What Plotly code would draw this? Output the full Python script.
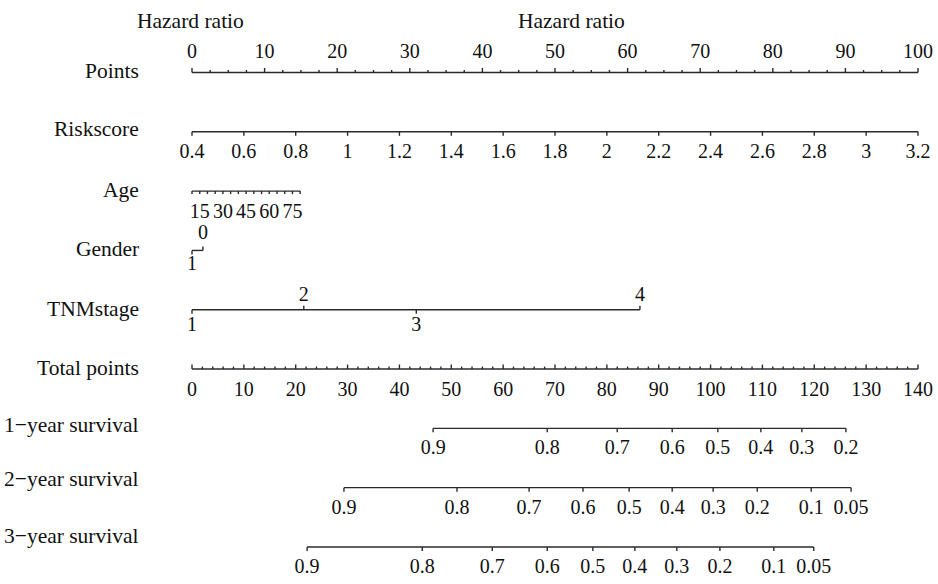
import numpy as np
import plotly.graph_objects as go

# ---------------- data ----------------
row_names = ["Points", "Riskscore", "Age", "Gender", "TNMstage", "Total points",
             "1\u2212year survival", "2\u2212year survival", "3\u2212year survival"]

points_major = list(range(0, 101, 10))
points_minor = list(np.arange(0, 100.01, 2.5))

riskscore_ticks = [0.4, 0.6, 0.8, 1.0, 1.2, 1.4, 1.6, 1.8, 2.0, 2.2, 2.4, 2.6, 2.8, 3.0, 3.2]
riskscore_labels = ["0.4", "0.6", "0.8", "1", "1.2", "1.4", "1.6", "1.8", "2", "2.2",
                    "2.4", "2.6", "2.8", "3", "3.2"]
riskscore_range = [0.4, 3.2]
riskscore_points = [0, 100]

age_ticks = list(range(10, 81, 5))
age_labels = [15, 30, 45, 60, 75]
age_range = [10, 80]
age_points = [0, 14.9]

gender_levels = ["1", "0"]
gender_points = [0, 1.5]

tnm_levels = ["1", "2", "3", "4"]
tnm_points = [0, 15.4, 30.9, 61.7]

total_major = list(range(0, 141, 10))
total_minor = list(range(0, 141, 2))
total_max = 140
points_max = 100

surv1_labels = ["0.9", "0.8", "0.7", "0.6", "0.5", "0.4", "0.3", "0.2"]
surv1_total = [46.5, 68.5, 82.0, 92.6, 101.4, 109.7, 117.6, 126.1]
surv2_labels = ["0.9", "0.8", "0.7", "0.6", "0.5", "0.4", "0.3", "0.2", "0.1", "0.05"]
surv2_total = [29.3, 51.1, 65.0, 75.4, 84.3, 92.6, 100.5, 109.0, 119.4, 127.1]
surv3_labels = ["0.9", "0.8", "0.7", "0.6", "0.5", "0.4", "0.3", "0.2", "0.1", "0.05"]
surv3_total = [22.2, 44.4, 57.9, 68.5, 77.3, 85.4, 93.5, 101.8, 112.2, 119.9]

# ---------------- layout helpers ----------------
W, H = 938, 584
PX_PER_PT = 7.26
X0_PX = 192
PPR = 59.31          # pixels per row
ROW0_PX = 72.5
LINE_COLOR = "#2b2b2b"
TEXT_COLOR = "#111111"
FONT = "Liberation Serif, Times New Roman, serif"
TICK_SIZE = 20
LABEL_SIZE = 21.5

def tp_to_x(tp):
    return [t * points_max / total_max for t in tp]

fig = go.Figure()

def add_axis(row, xs, ticks, labels):
    """ticks: list of (x, direction(-1 up / +1 down), length_px)
       labels: list of (x, text, side(-1 above/+1 below), offset_px)"""
    lx = [min(xs), max(xs), None]
    ly = [row, row, None]
    for x, d, L in ticks:
        lx += [x, x, None]
        ly += [row, row + d * L / PPR, None]
    fig.add_trace(go.Scatter(x=lx, y=ly, mode="lines",
                             line=dict(color=LINE_COLOR, width=1.4),
                             hoverinfo="skip", showlegend=False))
    fig.add_trace(go.Scatter(x=[l[0] for l in labels],
                             y=[row + l[2] * l[3] / PPR for l in labels],
                             text=[l[1] for l in labels], mode="text",
                             textposition="middle center",
                             textfont=dict(family=FONT, size=TICK_SIZE, color=TEXT_COLOR),
                             hoverinfo="skip", showlegend=False))

# Points
add_axis(0, [0, 100],
         [(p, -1, 4.5 if abs(p % 10) < 1e-9 else 2.5) for p in points_minor],
         [(p, str(p), -1, 20) for p in points_major])

# Riskscore
rs_x = list(np.interp(riskscore_ticks, riskscore_range, riskscore_points))
add_axis(1, rs_x, [(x, 1, 4) for x in rs_x],
         [(x, t, 1, 21) for x, t in zip(rs_x, riskscore_labels)])

# Age
age_x = list(np.interp(age_ticks, age_range, age_points))
age_lx = list(np.interp(age_labels, age_range, age_points))
add_axis(2, age_x, [(x, 1, 3) for x in age_x],
         [(x, str(a), 1, 22) for x, a in zip(age_lx, age_labels)])

# Gender
add_axis(3, gender_points,
         [(gender_points[0], 1, 4), (gender_points[1], -1, 4)],
         [(gender_points[0], gender_levels[0], 1, 15),
          (gender_points[1], gender_levels[1], -1, 16)])

# TNM stage
tnm_sides = [1, -1, 1, -1]
add_axis(4, tnm_points,
         [(x, s, 4) for x, s in zip(tnm_points, tnm_sides)],
         [(x, t, s, 16 if s > 0 else 14) for x, t, s in zip(tnm_points, tnm_levels, tnm_sides)])

# Total points
tot_minor_x = tp_to_x(total_minor)
add_axis(5, tot_minor_x,
         [(x, -1, 4.5 if t % 10 == 0 else 2.5) for x, t in zip(tot_minor_x, total_minor)],
         [(x, str(t), 1, 21.5) for x, t in zip(tp_to_x(total_major), total_major)])

# Survival rows
for r, (labs, tot) in zip([6, 7, 8], [(surv1_labels, surv1_total),
                                      (surv2_labels, surv2_total),
                                      (surv3_labels, surv3_total)]):
    sx = tp_to_x(tot)
    add_axis(r, sx, [(x, 1, 4) for x in sx],
             [(x, t, 1, 21) for x, t in zip(sx, labs)])

# Row labels
label_dy_px = [-1.5, -3, -1, -1, -1, -1.5, -3, -9, -11]
label_x = (141 - X0_PX) / PX_PER_PT
for i, name in enumerate(row_names):
    fig.add_annotation(x=label_x, y=i + label_dy_px[i] / PPR, text=name,
                       xanchor="right", yanchor="middle", showarrow=False,
                       font=dict(family=FONT, size=LABEL_SIZE, color=TEXT_COLOR))

# Hazard ratio titles
for hx in [(190 - X0_PX) / PX_PER_PT, (571 - X0_PX) / PX_PER_PT]:
    fig.add_annotation(x=hx, y=(20.5 - ROW0_PX) / PPR, text="Hazard ratio",
                       xanchor="center", yanchor="middle", showarrow=False,
                       font=dict(family=FONT, size=LABEL_SIZE, color=TEXT_COLOR))

xmin = -X0_PX / PX_PER_PT
xmax = (W - X0_PX) / PX_PER_PT
ytop = -ROW0_PX / PPR
ybot = (H - ROW0_PX) / PPR

fig.update_layout(
    width=W, height=H,
    margin=dict(l=0, r=0, t=0, b=0),
    paper_bgcolor="white", plot_bgcolor="white",
    xaxis=dict(range=[xmin, xmax], visible=False, fixedrange=True),
    yaxis=dict(range=[ybot, ytop], visible=False, fixedrange=True),
    showlegend=False,
)

fig.write_html("out.html")
